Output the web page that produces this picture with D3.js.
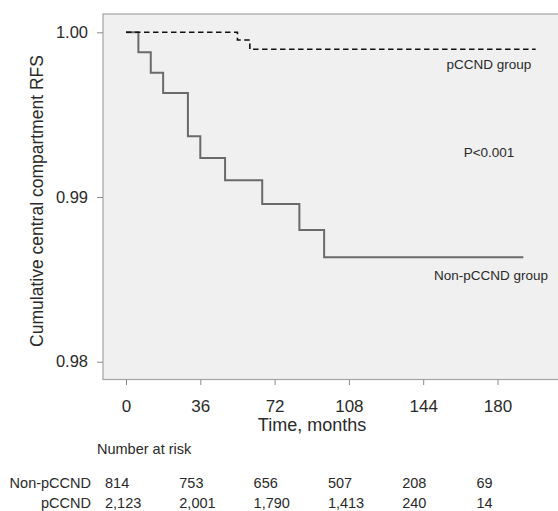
<!DOCTYPE html>
<html>
<head>
<meta charset="UTF-8">
<title>Cumulative central compartment RFS</title>
<script src="https://d3js.org/d3.v7.min.js"></script>
<style>
    body { margin: 0; background: #fff; }
    svg { display: block; font-family: "Liberation Sans", Arial, Helvetica, sans-serif; }
</style>
</head>
<body>
<svg width="558" height="511"></svg>
<script>
    // step points of the two Kaplan-Meier curves (months, survival)
    var nonTimes = [0, 6, 12, 18, 30, 36, 48, 66, 84, 96, 192.5];
    var nonSurv = [1, 0.99879, 0.99755, 0.99632, 0.99369, 0.99237, 0.99101, 0.98958, 0.98800, 0.98634, 0.98634];
    var pTimes = [0, 54, 60, 198.5];
    var pSurv = [1, 0.99953, 0.99897, 0.99897];

    var xTicks = [0, 36, 72, 108, 144, 180];
    var yTicks = [0.98, 0.99, 1.00];
    var riskNon = [814, 753, 656, 507, 208, 69];
    var riskP = [2123, 2001, 1790, 1413, 240, 14];

    var svg = d3.select("svg");
    var panel = { left: 103, top: 14, right: 562, bottom: 379.5 };

    var x = d3.scaleLinear().domain([0, 180]).range([126, 497.5]);
    var y = d3.scaleLinear().domain([0.98, 1.00]).range([361.7, 32.3]);

    // grey plot area
    svg.append("rect")
        .attr("x", panel.left)
        .attr("y", panel.top)
        .attr("width", panel.right - panel.left)
        .attr("height", panel.bottom - panel.top)
        .attr("fill", "#f0f0f0")
        .attr("stroke", "#a3a3a3")
        .attr("stroke-width", 1.2);

    // y axis
    var yAxis = svg.append("g")
        .attr("transform", "translate(" + panel.left + ",0)")
        .call(d3.axisLeft(y).tickValues(yTicks).tickFormat(d3.format(".2f")).tickSize(6).tickPadding(9));
    yAxis.select(".domain").remove();
    yAxis.selectAll("line").attr("stroke", "#8a8a8a");
    yAxis.selectAll("text").attr("font-size", "16.5px").attr("fill", "#2a2a2a")
        .style("font-family", "inherit");

    // x axis
    var xAxis = svg.append("g")
        .attr("transform", "translate(0," + (panel.bottom + 0.5) + ")")
        .call(d3.axisBottom(x).tickValues(xTicks).tickSize(5).tickPadding(15));
    xAxis.select(".domain").remove();
    xAxis.selectAll("line").attr("stroke", "#8a8a8a");
    xAxis.selectAll("text").attr("font-size", "17px").attr("fill", "#2a2a2a")
        .style("font-family", "inherit");

    // axis titles
    svg.append("text")
        .attr("transform", "translate(43,201) rotate(-90)")
        .attr("text-anchor", "middle")
        .attr("font-size", "17.5px")
        .attr("fill", "#2a2a2a")
        .text("Cumulative central compartment RFS");

    svg.append("text")
        .attr("x", 312)
        .attr("y", 431)
        .attr("text-anchor", "middle")
        .attr("font-size", "18px")
        .attr("fill", "#2a2a2a")
        .text("Time, months");

    // curves
    var line = d3.line()
        .x(function(d) { return x(d[0]); })
        .y(function(d) { return y(d[1]); })
        .curve(d3.curveStepAfter);

    svg.append("path")
        .datum(d3.zip(nonTimes, nonSurv))
        .attr("d", line)
        .attr("fill", "none")
        .attr("stroke", "#6a6a6a")
        .attr("stroke-width", 2);

    svg.append("path")
        .datum(d3.zip(pTimes, pSurv))
        .attr("d", line)
        .attr("fill", "none")
        .attr("stroke", "#111")
        .attr("stroke-width", 1.6)
        .attr("stroke-dasharray", "5.5,3.5");

    // labels inside the plot
    var notes = [
        { t: "pCCND group", x: 489, y: 68.5 },
        { t: "P<0.001", x: 489, y: 156.5 },
        { t: "Non-pCCND group", x: 491, y: 279.5 }
    ];
    svg.selectAll(".note")
        .data(notes)
        .enter().append("text")
        .attr("class", "note")
        .attr("x", function(d) { return d.x; })
        .attr("y", function(d) { return d.y; })
        .attr("text-anchor", "middle")
        .attr("font-size", "13.5px")
        .attr("fill", "#2a2a2a")
        .text(function(d) { return d.t; });

    // number at risk table
    svg.append("text")
        .attr("x", 97)
        .attr("y", 454)
        .attr("font-size", "14.5px")
        .attr("fill", "#2a2a2a")
        .text("Number at risk");

    var rows = [
        { name: "Non-pCCND", vals: riskNon, y: 488 },
        { name: "pCCND", vals: riskP, y: 507.5 }
    ];
    var fmt = d3.format(",");
    rows.forEach(function(row) {
        svg.append("text")
            .attr("x", 91)
            .attr("y", row.y)
            .attr("text-anchor", "end")
            .attr("font-size", "14.5px")
            .attr("fill", "#2a2a2a")
            .text(row.name);
        svg.selectAll(null)
            .data(row.vals)
            .enter().append("text")
            .attr("x", function(d, i) { return x(xTicks[i]) - 21; })
            .attr("y", row.y)
            .attr("font-size", "14.5px")
            .attr("fill", "#2a2a2a")
            .text(function(d) { return fmt(d); });
    });
</script>
</body>
</html>
